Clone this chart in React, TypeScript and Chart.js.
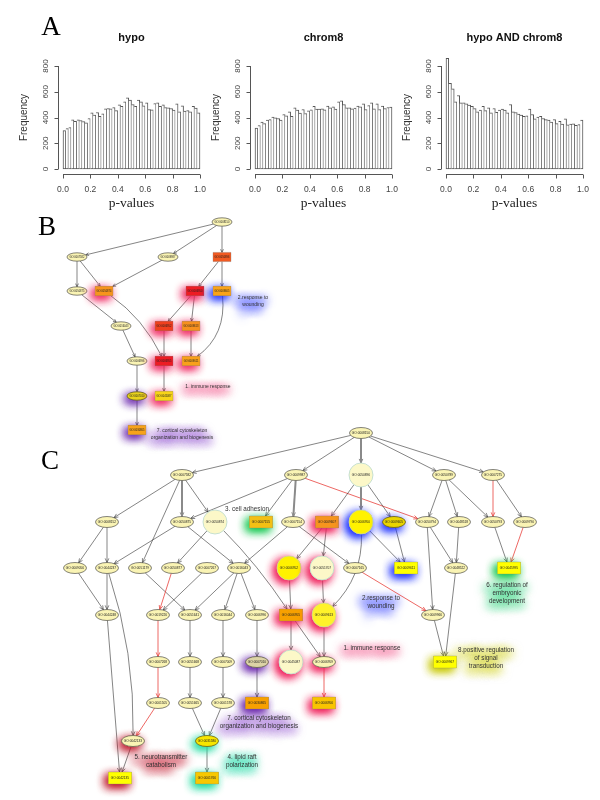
import React, { useEffect, useRef } from 'react';
import { Chart, registerables } from 'chart.js';
Chart.register(...registerables);

// ---------------- Panel A data ----------------
const BIN_WIDTH = 0.02;
const xTickValues = [0, 0.2, 0.4, 0.6, 0.8, 1.0];
const xTickLabels = ['0.0', '0.2', '0.4', '0.6', '0.8', '1.0'];
const yTickValues = [0, 200, 400, 600, 800];
const yTickLabels = ['0', '200', '400', '600', '800'];
const histTitles = ['hypo', 'chrom8', 'hypo AND chrom8'];
const xAxisTitle = 'p-values';
const yAxisTitle = 'Frequency';

const hypoFreq = [299, 314, 322, 382, 371, 382, 377, 369, 358, 392, 436, 418, 439, 410, 428, 467, 470, 467, 478, 454, 499, 486, 522, 553, 535, 501, 486, 535, 522, 491, 514, 462, 460, 509, 514, 486, 499, 478, 475, 470, 457, 506, 444, 491, 449, 454, 444, 486, 473, 436];
const chrom8Freq = [317, 338, 364, 353, 379, 384, 403, 397, 392, 379, 423, 413, 444, 410, 475, 457, 434, 462, 431, 452, 460, 486, 465, 465, 467, 460, 488, 475, 483, 465, 522, 530, 501, 475, 475, 467, 473, 488, 483, 506, 462, 493, 514, 467, 506, 462, 488, 470, 478, 480];
const bothFreq = [860, 665, 623, 522, 571, 514, 514, 506, 496, 486, 470, 444, 457, 486, 454, 475, 436, 470, 441, 457, 465, 457, 436, 501, 444, 439, 426, 418, 410, 413, 465, 423, 390, 403, 410, 392, 384, 379, 364, 384, 353, 371, 348, 390, 343, 348, 351, 340, 345, 380];

// ---------------- Panel B graph ----------------
const bNodeIds = ['GO:0008150', 'GO:0007582', 'GO:0009987', 'GO:0050896', 'GO:0050875', 'GO:0050874', 'GO:0006950', 'GO:0009605', 'GO:0016043', 'GO:0006952', 'GO:0009613', 'GO:0006996', 'GO:0006955', 'GO:0009611', 'GO:0007010', 'GO:0045087', 'GO:0030865'];
const bNodeX = [222, 77, 168, 222, 77, 104, 195, 222, 121, 164, 191, 137, 164, 191, 137, 164, 137];
const bNodeY = [222, 257, 257, 257, 291, 291, 291, 291, 326, 326, 326, 361, 361, 361, 396, 396, 430];
const bNodeShape = ['e', 'e', 'e', 'r', 'e', 'r', 'r', 'r', 'e', 'r', 'r', 'e', 'r', 'r', 'e', 'r', 'r'];
const bNodeFill = ['#faf4b4', '#faf4b4', '#faf4b4', '#f15a22', '#faf4b4', '#f7941d', '#ee1c24', '#f9a31b', '#faf4b4', '#f0401e', '#f7901e', '#faf4b4', '#ed1c24', '#f9a01b', '#e8d21c', '#f7d417', '#f7a21b'];
const bNodeGlow = ['', '', '', '', '', 'pink', 'pink', 'blue', '', 'pink', 'pink', '', 'pink', 'pink', 'purple', 'pink', 'purple'];
const bEdges: any[] = [
  ['GO:0008150', 'GO:0007582', 'k', 0], ['GO:0008150', 'GO:0009987', 'k', 0], ['GO:0008150', 'GO:0050896', 'k', 0],
  ['GO:0007582', 'GO:0050875', 'k', 0], ['GO:0007582', 'GO:0050874', 'k', 0], ['GO:0009987', 'GO:0050874', 'k', 0],
  ['GO:0050896', 'GO:0006950', 'k', 0], ['GO:0050896', 'GO:0009605', 'k', 0],
  ['GO:0050875', 'GO:0016043', 'k', 0], ['GO:0050874', 'GO:0006955', 'k', -12],
  ['GO:0006950', 'GO:0006952', 'k', 0], ['GO:0006950', 'GO:0009613', 'k', 0],
  ['GO:0009605', 'GO:0009611', 'k', -22], ['GO:0016043', 'GO:0006996', 'k', 0],
  ['GO:0006952', 'GO:0006955', 'k', 0], ['GO:0009613', 'GO:0009611', 'k', 0],
  ['GO:0006996', 'GO:0007010', 'k', 0], ['GO:0006955', 'GO:0045087', 'k', 0], ['GO:0007010', 'GO:0030865', 'k', 0],
];
const bNotes: any[] = [
  { lines: ['2.response to', 'wounding'], x: 253, y: 298, glow: 'blue' },
  { lines: ['1. immune response'], x: 208, y: 387, glow: 'pink' },
  { lines: ['7. cortical cytoskeleton', 'organization and biogenesis'], x: 182, y: 431, glow: 'purple' },
];

// ---------------- Panel C graph ----------------
const cNodeIds = [
  'GO:0008150',
  'GO:0007582', 'GO:0009987', 'GO:0050896', 'GO:0050789', 'GO:0007275',
  'GO:0008152', 'GO:0050875', 'GO:0050874', 'GO:0007155', 'GO:0007154', 'GO:0009607', 'GO:0006950', 'GO:0009605', 'GO:0050794', 'GO:0048518', 'GO:0050793', 'GO:0009790',
  'GO:0009056', 'GO:0044237', 'GO:0051179', 'GO:0050877', 'GO:0007267', 'GO:0016043', 'GO:0006952', 'GO:0051707', 'GO:0007165', 'GO:0009611', 'GO:0048522', 'GO:0045995',
  'GO:0044248', 'GO:0019226', 'GO:0051641', 'GO:0016044', 'GO:0006996', 'GO:0006955', 'GO:0009613', 'GO:0009966',
  'GO:0007268', 'GO:0051668', 'GO:0007009', 'GO:0007010', 'GO:0045087', 'GO:0006959', 'GO:0009967',
  'GO:0001505', 'GO:0051665', 'GO:0001578', 'GO:0030865', 'GO:0006956',
  'GO:0042133', 'GO:0031580', 'GO:0042135', 'GO:0001766',
];
const cNodeX = [
  361,
  182, 296, 361, 444, 493,
  107, 182, 215, 261, 293, 327, 361, 394, 427, 459, 493, 525,
  75, 107, 140, 173, 207, 239, 289, 322, 355, 406, 456, 509,
  107, 158, 190, 223, 257, 291, 324, 433,
  158, 190, 223, 257, 291, 324, 445,
  158, 190, 223, 257, 324,
  133, 207, 120, 207,
];
const cNodeY = [
  433,
  475, 475, 475, 475, 475,
  522, 522, 522, 522, 522, 522, 522, 522, 522, 522, 522, 522,
  568, 568, 568, 568, 568, 568, 568, 568, 568, 568, 568, 568,
  615, 615, 615, 615, 615, 615, 615, 615,
  662, 662, 662, 662, 662, 662, 662,
  703, 703, 703, 703, 703,
  741, 741, 778, 778,
];
const P = '#faf4b4';
const BP = '#fcf8c8';
const cNodeShape = [
  'e',
  'e', 'e', 'c', 'e', 'e',
  'e', 'e', 'c', 'r', 'e', 'r', 'c', 'e', 'e', 'e', 'e', 'e',
  'e', 'e', 'e', 'e', 'e', 'e', 'c', 'c', 'e', 'r', 'e', 'r',
  'e', 'e', 'e', 'e', 'e', 'r', 'c', 'e',
  'e', 'e', 'e', 'e', 'c', 'e', 'r',
  'e', 'e', 'e', 'r', 'r',
  'e', 'e', 'r', 'r',
];
const cNodeFill = [
  P,
  P, P, BP, P, P,
  P, P, BP, '#f2c014', P, '#f7941d', '#fff200', '#e9d400', P, P, P, P,
  P, P, P, P, P, P, '#fff200', BP, P, '#ffff00', P, '#ffff00',
  P, P, P, P, P, '#f7a000', '#fff22a', P,
  P, P, P, '#dcd3a6', BP, P, '#ffff00',
  P, P, P, '#f7a000', '#f9c400',
  P, '#f7e600', '#ffff00', '#f7c800',
];
const cNodeGlow = [
  '',
  '', '', '', '', '',
  '', '', '', 'green', '', 'pink', 'blue', 'blue', '', '', '', '',
  '', '', '', '', '', '', 'pink', 'pink', '', 'blue', '', 'green',
  '', '', '', '', '', 'pink', 'pink', '',
  '', '', '', 'purple', 'pink', 'pink', 'yellow',
  '', '', '', 'purple', 'pink',
  'red', 'teal', 'red', 'teal',
];
const cEdges: any[] = [
  ['GO:0008150', 'GO:0007582', 'k', 0], ['GO:0008150', 'GO:0009987', 'k', 0], ['GO:0008150', 'GO:0050896', 'g', 0], ['GO:0008150', 'GO:0050789', 'k', 0], ['GO:0008150', 'GO:0007275', 'k', 0],
  ['GO:0007582', 'GO:0008152', 'k', 0], ['GO:0007582', 'GO:0050875', 'g', 0], ['GO:0007582', 'GO:0050874', 'k', 0], ['GO:0007582', 'GO:0051179', 'k', 0],
  ['GO:0009987', 'GO:0050875', 'k', 0], ['GO:0009987', 'GO:0007155', 'k', 0], ['GO:0009987', 'GO:0007154', 'g', 0], ['GO:0009987', 'GO:0050794', 'r', 0],
  ['GO:0050896', 'GO:0009607', 'k', 0], ['GO:0050896', 'GO:0006950', 'g', 0], ['GO:0050896', 'GO:0009605', 'k', 0],
  ['GO:0050789', 'GO:0050794', 'k', 0], ['GO:0050789', 'GO:0048518', 'k', 0], ['GO:0050789', 'GO:0050793', 'k', 0],
  ['GO:0007275', 'GO:0050793', 'r', 0], ['GO:0007275', 'GO:0009790', 'k', 0],
  ['GO:0008152', 'GO:0009056', 'k', 0], ['GO:0008152', 'GO:0044237', 'k', 0],
  ['GO:0050875', 'GO:0044237', 'k', 0], ['GO:0050875', 'GO:0016043', 'k', 0],
  ['GO:0050874', 'GO:0050877', 'k', 0], ['GO:0050874', 'GO:0006955', 'k', -6],
  ['GO:0007154', 'GO:0016043', 'k', 0], ['GO:0007154', 'GO:0007165', 'k', 0],
  ['GO:0009607', 'GO:0006952', 'k', 0], ['GO:0009607', 'GO:0051707', 'k', 0],
  ['GO:0006950', 'GO:0009611', 'k', 0], ['GO:0006950', 'GO:0009613', 'k', -22], ['GO:0009605', 'GO:0009611', 'k', 0],
  ['GO:0050794', 'GO:0009966', 'k', 0], ['GO:0050794', 'GO:0048522', 'k', 0], ['GO:0048518', 'GO:0048522', 'k', 0],
  ['GO:0050793', 'GO:0045995', 'k', 0], ['GO:0009790', 'GO:0045995', 'r', 0],
  ['GO:0007165', 'GO:0009966', 'r', 0],
  ['GO:0009056', 'GO:0044248', 'k', 0], ['GO:0044237', 'GO:0044248', 'k', 0], ['GO:0044237', 'GO:0042133', 'k', -15],
  ['GO:0051179', 'GO:0051641', 'k', 0], ['GO:0050877', 'GO:0019226', 'r', 0], ['GO:0007267', 'GO:0019226', 'k', 0],
  ['GO:0016043', 'GO:0051641', 'k', 0], ['GO:0016043', 'GO:0016044', 'k', 0], ['GO:0016043', 'GO:0006996', 'k', 0],
  ['GO:0006952', 'GO:0006955', 'k', 0], ['GO:0051707', 'GO:0009613', 'k', 0],
  ['GO:0019226', 'GO:0007268', 'r', 0], ['GO:0051641', 'GO:0051668', 'k', 0], ['GO:0016044', 'GO:0007009', 'k', 0], ['GO:0006996', 'GO:0007010', 'k', 0],
  ['GO:0006955', 'GO:0045087', 'k', 0], ['GO:0006955', 'GO:0006959', 'k', 0], ['GO:0009613', 'GO:0006959', 'k', 0],
  ['GO:0009966', 'GO:0009967', 'k', 0], ['GO:0048522', 'GO:0009967', 'k', 0],
  ['GO:0007268', 'GO:0001505', 'r', 0], ['GO:0051668', 'GO:0051665', 'k', 0], ['GO:0007009', 'GO:0001578', 'k', 0], ['GO:0007010', 'GO:0030865', 'k', 0], ['GO:0006959', 'GO:0006956', 'r', 0],
  ['GO:0001505', 'GO:0042133', 'r', 0], ['GO:0051665', 'GO:0031580', 'k', 0], ['GO:0001578', 'GO:0031580', 'k', 0],
  ['GO:0044248', 'GO:0042135', 'k', 0], ['GO:0042133', 'GO:0042135', 'k', 0], ['GO:0031580', 'GO:0001766', 'k', 0],
];
const cNotes: any[] = [
  { lines: ['3. cell adhesion'], x: 247, y: 509, glow: '' },
  { lines: ['2.response to', 'wounding'], x: 381, y: 598, glow: 'blue' },
  { lines: ['1. immune response'], x: 372, y: 648, glow: 'pink' },
  { lines: ['6. regulation of', 'embryonic', 'development'], x: 507, y: 585, glow: 'green' },
  { lines: ['8.positive regulation', 'of signal', 'transduction'], x: 486, y: 650, glow: 'yellow' },
  { lines: ['7. cortical cytoskeleton', 'organization and biogenesis'], x: 259, y: 718, glow: 'purple' },
  { lines: ['5. neurotransmitter', 'catabolism'], x: 161, y: 757, glow: 'red' },
  { lines: ['4. lipid raft', 'polarization'], x: 242, y: 757, glow: 'teal' },
];
const panelLetters = [
  { t: 'A', x: 51, y: 28 },
  { t: 'B', x: 47, y: 228 },
  { t: 'C', x: 50, y: 462 },
];

// ---------------- styles ----------------
const GLOW: any = {
  pink: 'rgba(240,30,90,0.95)',
  blue: 'rgba(30,50,255,0.95)',
  purple: 'rgba(100,30,170,0.95)',
  green: 'rgba(20,200,80,0.95)',
  teal: 'rgba(30,220,160,0.95)',
  red: 'rgba(190,20,40,0.95)',
  yellow: 'rgba(200,200,0,0.95)',
};
const TEXT_GLOW: any = {
  pink: 'rgba(240,60,120,0.45)',
  blue: 'rgba(80,90,255,0.45)',
  purple: 'rgba(150,90,210,0.4)',
  green: 'rgba(40,210,120,0.4)',
  teal: 'rgba(40,220,170,0.45)',
  red: 'rgba(200,40,60,0.45)',
  yellow: 'rgba(220,220,60,0.5)',
};

const binCenters = hypoFreq.map((_, i) => (i + 0.5) * BIN_WIDTH);

const rAxesPlugin = {
  id: 'rAxes',
  afterDraw(chart: any, _a: any, opts: any) {
    const { ctx, chartArea: a, scales } = chart;
    const x = scales.x, y = scales.y;
    ctx.save();
    ctx.strokeStyle = '#555';
    ctx.fillStyle = '#444';
    ctx.lineWidth = 1;
    const ax = Math.round(a.left - 5) + 0.5;
    const ay = Math.round(a.bottom + 5) + 0.5;
    ctx.beginPath();
    ctx.moveTo(ax, y.getPixelForValue(yTickValues[0]));
    ctx.lineTo(ax, y.getPixelForValue(yTickValues[yTickValues.length - 1]));
    yTickValues.forEach((t) => {
      const py = Math.round(y.getPixelForValue(t)) + 0.5;
      ctx.moveTo(ax, py);
      ctx.lineTo(ax - 4, py);
    });
    ctx.moveTo(x.getPixelForValue(xTickValues[0]), ay);
    ctx.lineTo(x.getPixelForValue(xTickValues[xTickValues.length - 1]), ay);
    xTickValues.forEach((t) => {
      const px = Math.round(x.getPixelForValue(t)) + 0.5;
      ctx.moveTo(px, ay);
      ctx.lineTo(px, ay + 4);
    });
    ctx.stroke();
    ctx.textAlign = 'center';
    ctx.textBaseline = 'middle';
    ctx.font = '8px "Liberation Sans"';
    yTickValues.forEach((t, i) => {
      ctx.save();
      ctx.translate(ax - 13, y.getPixelForValue(t));
      ctx.rotate(-Math.PI / 2);
      ctx.fillText(yTickLabels[i], 0, 0);
      ctx.restore();
    });
    ctx.font = '8.5px "Liberation Sans"';
    xTickValues.forEach((t, i) => {
      ctx.fillText(xTickLabels[i], x.getPixelForValue(t), a.bottom + 21);
    });
    const cx = (a.left + a.right) / 2;
    ctx.fillStyle = '#111';
    ctx.font = 'bold 11px "Liberation Sans"';
    ctx.fillText(opts.title, cx, 38);
    ctx.fillStyle = '#333';
    ctx.font = '10px "Liberation Sans"';
    ctx.save();
    ctx.translate(ax - 34, (a.top + a.bottom) / 2);
    ctx.rotate(-Math.PI / 2);
    ctx.fillText(yAxisTitle, 0, 0);
    ctx.restore();
    ctx.fillStyle = '#222';
    ctx.font = '13.5px "Liberation Serif"';
    ctx.fillText(xAxisTitle, cx, a.bottom + 34);
    ctx.restore();
  },
};

function Histogram({ left, title, values }: any) {
  const ref = useRef<HTMLCanvasElement>(null);
  useEffect(() => {
    const chart = new Chart(ref.current as HTMLCanvasElement, {
      type: 'bar',
      data: {
        datasets: [
          {
            data: values.map((v: number, i: number) => ({ x: binCenters[i], y: v })),
            backgroundColor: '#ffffff',
            borderColor: '#555',
            borderWidth: (c: any) => ({ top: 1, right: 1, bottom: 1, left: c.dataIndex === 0 ? 1 : 0 }),
            borderSkipped: false,
            barPercentage: 1,
            categoryPercentage: 1,
            grouped: false,
            clip: false,
          } as any,
        ],
      },
      options: {
        responsive: false,
        animation: false,
        events: [],
        layout: { padding: { left: 63, right: 15, top: 66, bottom: 46 } },
        plugins: { legend: { display: false }, tooltip: { enabled: false }, rAxes: { title } } as any,
        scales: {
          x: { type: 'linear', min: 0, max: 1, offset: false, display: false },
          y: { type: 'linear', min: 0, max: 800, display: false },
        },
      },
      plugins: [rAxesPlugin],
    } as any);
    return () => chart.destroy();
  }, []);
  return <canvas ref={ref} width={215} height={215} style={{ position: 'absolute', left, top: 0 }} />;
}

// --------------- graph drawing ---------------
const SIZE_B = { rx: 10, ry: 4.2, hw: 9, hh: 4.6, r: 10, font: 2.6, arrow: 3.5, noteFont: 5, noteLh: 7 };
const SIZE_C = { rx: 11.5, ry: 5.5, hw: 11.5, hh: 6, r: 12, font: 3.2, arrow: 4.5, noteFont: 6.3, noteLh: 8 };

function boundary(shape: string, sz: any, cx: number, cy: number, tx: number, ty: number) {
  const dx = tx - cx, dy = ty - cy;
  const len = Math.hypot(dx, dy) || 1;
  let t: number;
  if (shape === 'e') t = 1 / Math.sqrt((dx / sz.rx) ** 2 + (dy / sz.ry) ** 2);
  else if (shape === 'r') t = Math.min(sz.hw / Math.max(Math.abs(dx), 1e-6), sz.hh / Math.max(Math.abs(dy), 1e-6));
  else t = sz.r / len;
  return { x: cx + dx * t, y: cy + dy * t };
}

function nodePath(ctx: any, shape: string, sz: any, x: number, y: number) {
  ctx.beginPath();
  if (shape === 'e') ctx.ellipse(x, y, sz.rx, sz.ry, 0, 0, Math.PI * 2);
  else if (shape === 'r') ctx.rect(x - sz.hw, y - sz.hh, sz.hw * 2, sz.hh * 2);
  else ctx.arc(x, y, sz.r, 0, Math.PI * 2);
}

function drawPanel(chart: any, di: number, spec: any) {
  const ctx = chart.ctx;
  const meta = chart.getDatasetMeta(di);
  const pos = meta.data.map((el: any) => ({ x: el.x, y: el.y }));
  const sz = spec.size;
  const idx = (id: string) => spec.ids.indexOf(id);
  const xs = chart.scales.x, ys = chart.scales.y;
  const unit = Math.abs(xs.getPixelForValue(1) - xs.getPixelForValue(0));

  // note glows (behind everything)
  spec.notes.forEach((n: any) => {
    if (!n.glow) return;
    const px = xs.getPixelForValue(n.x), py = ys.getPixelForValue(n.y);
    ctx.save();
    ctx.font = `${sz.noteFont * unit}px "Liberation Sans"`;
    ctx.textAlign = 'center';
    ctx.textBaseline = 'middle';
    ctx.shadowColor = TEXT_GLOW[n.glow];
    ctx.shadowBlur = 10;
    ctx.shadowOffsetX = 10000 - 2;
    ctx.shadowOffsetY = 3;
    ctx.lineWidth = 4;
    ctx.strokeStyle = '#000';
    n.lines.forEach((t: string, i: number) => {
      ctx.strokeText(t, px - 10000, py + i * sz.noteLh * unit);
    });
    ctx.restore();
  });

  // edges
  spec.edges.forEach((e: any) => {
    const fi = idx(e[0]), ti = idx(e[1]);
    const a = pos[fi], b = pos[ti];
    const kind = e[2], bend = e[3];
    let cp: any = null;
    if (bend) {
      const dx = b.x - a.x, dy = b.y - a.y, L = Math.hypot(dx, dy);
      cp = { x: (a.x + b.x) / 2 + (-dy / L) * bend * unit, y: (a.y + b.y) / 2 + (dx / L) * bend * unit };
    }
    const aimEnd = cp || a;
    const aimStart = cp || b;
    const s = boundary(spec.shapes[fi], scaled(sz, unit), a.x, a.y, aimStart.x, aimStart.y);
    const t = boundary(spec.shapes[ti], scaled(sz, unit), b.x, b.y, aimEnd.x, aimEnd.y);
    ctx.save();
    ctx.strokeStyle = kind === 'r' ? '#e8413c' : kind === 'g' ? '#8a8a8a' : '#333';
    ctx.lineWidth = kind === 'g' ? 2 : kind === 'r' ? 0.8 : 0.6;
    ctx.beginPath();
    ctx.moveTo(s.x, s.y);
    if (cp) ctx.quadraticCurveTo(cp.x, cp.y, t.x, t.y);
    else ctx.lineTo(t.x, t.y);
    ctx.stroke();
    const ang = Math.atan2(t.y - aimEnd.y, t.x - aimEnd.x);
    const L = sz.arrow * unit;
    ctx.lineWidth = kind === 'g' ? 1 : ctx.lineWidth;
    ctx.beginPath();
    ctx.moveTo(t.x - L * Math.cos(ang - 0.42), t.y - L * Math.sin(ang - 0.42));
    ctx.lineTo(t.x, t.y);
    ctx.lineTo(t.x - L * Math.cos(ang + 0.42), t.y - L * Math.sin(ang + 0.42));
    ctx.stroke();
    ctx.restore();
  });

  // nodes
  const ssz = scaled(sz, unit);
  pos.forEach((p: any, i: number) => {
    const shape = spec.shapes[i];
    const fill = spec.fills[i];
    const glow = spec.glows[i];
    if (glow) {
      ctx.save();
      ctx.shadowColor = GLOW[glow];
      ctx.shadowBlur = 10;
      ctx.shadowOffsetX = -3;
      ctx.shadowOffsetY = 3;
      ctx.fillStyle = fill;
      for (let k = 0; k < 2; k++) {
        nodePath(ctx, shape, ssz, p.x, p.y);
        ctx.fill();
      }
      ctx.restore();
    }
    ctx.save();
    nodePath(ctx, shape, ssz, p.x, p.y);
    ctx.fillStyle = fill;
    ctx.fill();
    if (shape === 'c') {
      ctx.strokeStyle = fill === BP ? '#b9d9cf' : '#c9d7a0';
      ctx.lineWidth = 0.8;
    } else if (shape === 'r') {
      ctx.strokeStyle = 'rgba(120,120,120,0.6)';
      ctx.lineWidth = 0.5;
    } else {
      ctx.strokeStyle = '#333';
      ctx.lineWidth = 0.6;
    }
    ctx.stroke();
    ctx.fillStyle = '#222';
    ctx.font = `${sz.font * unit}px "Liberation Sans"`;
    ctx.textAlign = 'center';
    ctx.textBaseline = 'middle';
    ctx.fillText(spec.ids[i], p.x, p.y);
    ctx.restore();
  });

  // note texts
  spec.notes.forEach((n: any) => {
    const px = xs.getPixelForValue(n.x), py = ys.getPixelForValue(n.y);
    ctx.save();
    ctx.font = `${sz.noteFont * unit}px "Liberation Sans"`;
    ctx.textAlign = 'center';
    ctx.textBaseline = 'middle';
    ctx.fillStyle = '#333';
    n.lines.forEach((t: string, i: number) => ctx.fillText(t, px, py + i * sz.noteLh * unit));
    ctx.restore();
  });
}

function scaled(sz: any, u: number) {
  return { rx: sz.rx * u, ry: sz.ry * u, hw: sz.hw * u, hh: sz.hh * u, r: sz.r * u };
}

const panels = [
  { ids: bNodeIds, shapes: bNodeShape, fills: bNodeFill, glows: bNodeGlow, edges: bEdges, notes: bNotes, size: SIZE_B },
  { ids: cNodeIds, shapes: cNodeShape, fills: cNodeFill, glows: cNodeGlow, edges: cEdges, notes: cNotes, size: SIZE_C },
];

const graphPlugin = {
  id: 'goGraph',
  afterDatasetsDraw(chart: any) {
    const ctx = chart.ctx;
    panels.forEach((spec, di) => drawPanel(chart, di, spec));
    ctx.save();
    ctx.fillStyle = '#000';
    ctx.font = '27px "Liberation Serif"';
    ctx.textAlign = 'center';
    ctx.textBaseline = 'middle';
    panelLetters.forEach((l) => ctx.fillText(l.t, chart.scales.x.getPixelForValue(l.x), chart.scales.y.getPixelForValue(l.y)));
    ctx.restore();
  },
};

function GoGraphs() {
  const ref = useRef<HTMLCanvasElement>(null);
  useEffect(() => {
    const chart = new Chart(ref.current as HTMLCanvasElement, {
      type: 'scatter',
      data: {
        datasets: [
          { data: bNodeX.map((x, i) => ({ x, y: bNodeY[i] })), pointRadius: 0, pointHoverRadius: 0 },
          { data: cNodeX.map((x, i) => ({ x, y: cNodeY[i] })), pointRadius: 0, pointHoverRadius: 0 },
        ],
      },
      options: {
        responsive: false,
        animation: false,
        events: [],
        layout: { padding: 0, autoPadding: false },
        plugins: { legend: { display: false }, tooltip: { enabled: false } },
        scales: {
          x: { type: 'linear', min: 0, max: 600, display: false },
          y: { type: 'linear', min: 0, max: 800, reverse: true, display: false },
        },
      },
      plugins: [graphPlugin],
    } as any);
    return () => chart.destroy();
  }, []);
  return <canvas ref={ref} width={600} height={800} style={{ position: 'absolute', left: 0, top: 0, pointerEvents: 'none' }} />;
}

export default function App() {
  useEffect(() => {
    document.body.style.margin = '0';
  }, []);
  return (
    <div style={{ position: 'relative', width: 600, height: 800, background: '#fff', overflow: 'hidden' }}>
      <Histogram left={0} title={histTitles[0]} values={hypoFreq} />
      <Histogram left={192} title={histTitles[1]} values={chrom8Freq} />
      <Histogram left={383} title={histTitles[2]} values={bothFreq} />
      <GoGraphs />
    </div>
  );
}
